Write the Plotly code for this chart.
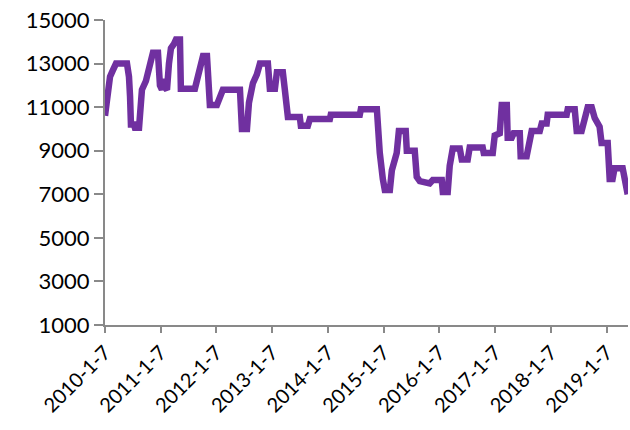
import plotly.graph_objects as go

dates = ["2010-01-07","2010-01-14","2010-01-27","2010-02-09","2010-02-28","2010-03-20","2010-05-31","2010-06-13",
         "2010-06-20","2010-06-26","2010-07-16","2010-07-22","2010-08-18","2010-08-24","2010-09-06","2010-10-02",
         "2010-10-22","2010-11-04","2010-11-17","2010-12-20","2011-01-02","2011-01-15","2011-01-28","2011-02-04",
         "2011-02-17","2011-03-02","2011-03-15","2011-04-04","2011-04-17","2011-05-13","2011-05-19","2011-08-19",
         "2011-09-01","2011-09-21","2011-10-11","2011-11-06","2011-11-12","2011-11-25","2012-01-10","2012-01-23",
         "2012-02-18","2012-06-09","2012-06-22","2012-07-25","2012-08-07","2012-09-02","2012-09-28","2012-10-18",
         "2012-12-09","2012-12-22","2013-01-24","2013-02-06","2013-03-17","2013-03-30","2013-04-12","2013-04-19",
         "2013-07-06","2013-07-13","2013-08-28","2013-09-10","2014-01-19","2014-01-25","2014-08-03","2014-08-10",
         "2014-11-23","2014-11-29","2014-12-12","2015-01-01","2015-01-14","2015-02-16","2015-03-01","2015-04-02",
         "2015-04-16","2015-05-31","2015-06-07","2015-07-29","2015-08-11","2015-08-31","2015-11-04","2015-11-24",
         "2016-01-22","2016-01-29","2016-03-01","2016-03-14","2016-03-27","2016-04-03","2016-05-19","2016-06-01",
         "2016-07-10","2016-07-23","2016-10-16","2016-10-23","2016-12-21","2017-01-03","2017-02-05","2017-02-18",
         "2017-03-23","2017-03-29","2017-04-24","2017-05-07","2017-06-16","2017-06-22","2017-07-31","2017-08-20",
         "2017-09-02","2017-10-25","2017-11-07","2017-12-09","2017-12-16","2018-04-19","2018-04-26","2018-06-11",
         "2018-06-24","2018-07-26","2018-08-09","2018-09-04","2018-09-30","2018-10-20","2018-11-21","2018-12-04",
         "2019-01-13","2019-01-26","2019-02-14","2019-02-27","2019-04-21","2019-05-04","2019-05-24"]

values = [10600,11000,12000,12400,12700,13000,13000,12400,
          11500,10200,10200,10050,10050,11200,11800,12200,
          12700,13100,13500,13500,12000,11800,12300,11900,
          11800,13000,13700,13900,14100,14100,11850,11850,
          12200,12900,13350,13350,11900,11100,11100,11400,
          11800,11800,10000,10000,11200,12100,12500,13000,
          13000,11850,11850,12600,12600,11800,10900,10550,
          10550,10150,10150,10450,10450,10650,10650,10900,
          10900,10000,8900,7700,7200,7200,8100,8900,
          9900,9900,9000,9000,7800,7600,7500,7650,
          7650,7100,7100,8300,8800,9100,9100,8600,
          8600,9150,9150,8900,8900,9700,9800,11100,
          11100,9600,9600,9800,9800,8750,8750,9350,
          9900,9900,10250,10250,10650,10650,10900,10900,
          9900,9900,10400,11000,11000,10500,10100,9350,
          9350,7700,7700,8200,8200,7800,7000]

tick_dates = ["2010-01-07","2011-01-07","2012-01-07","2013-01-07","2014-01-07",
              "2015-01-07","2016-01-07","2017-01-07","2018-01-07","2019-01-07"]
tick_labels = ["2010-1-7","2011-1-7","2012-1-7","2013-1-7","2014-1-7",
               "2015-1-7","2016-1-7","2017-1-7","2018-1-7","2019-1-7"]
y_ticks = [1000,3000,5000,7000,9000,11000,13000,15000]
y_labels = [str(v) for v in y_ticks]

fig = go.Figure()
fig.add_trace(go.Scatter(x=dates, y=values, mode="lines",
                         line=dict(color="#7030A0", width=6.5)))

axis_col = "#898989"
fig.update_layout(
    width=630, height=430,
    margin=dict(l=105, r=2, t=20, b=105, autoexpand=False),
    paper_bgcolor="white", plot_bgcolor="white",
    showlegend=False,
    font=dict(family="Lato", size=22, color="black"),
    xaxis=dict(type="date", range=["2010-01-07", "2019-05-26"], automargin=False,
               tickvals=tick_dates, ticktext=tick_labels, tickangle=-45,
               tickfont=dict(size=20), ticklabeloverflow="allow",
               showgrid=False, zeroline=False, showline=True, linecolor=axis_col, linewidth=2,
               ticks="outside", ticklen=6, tickcolor=axis_col, tickwidth=2),
    yaxis=dict(range=[1000, 15000], tickvals=y_ticks, ticktext=y_labels, automargin=False,
               ticklabeloverflow="allow",
               showgrid=False, zeroline=False, showline=True, linecolor=axis_col, linewidth=2,
               ticks="outside", ticklen=9, tickcolor=axis_col, tickwidth=2),
)

fig.write_html("out.html", config={"displayModeBar": False},
               post_script="document.body.style.margin='0';document.body.style.overflow='hidden';")
